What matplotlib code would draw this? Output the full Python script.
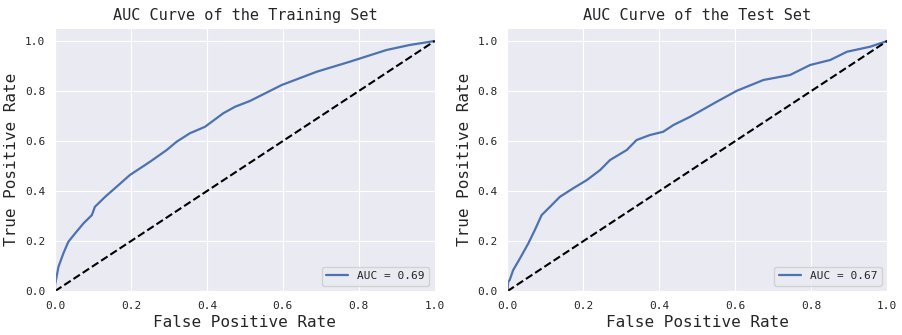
import matplotlib
matplotlib.use("Agg")
import matplotlib.pyplot as plt
import seaborn as sns

# ROC points
train_fpr = [0.0, 0.0, 0.009, 0.022, 0.035, 0.053, 0.075, 0.097, 0.105, 0.132,
             0.162, 0.197, 0.25, 0.294, 0.32, 0.355, 0.395, 0.443, 0.474, 0.513,
             0.597, 0.689, 0.776, 0.873, 0.934, 1.0]
train_tpr = [0.0, 0.024, 0.097, 0.151, 0.197, 0.231, 0.271, 0.304, 0.337, 0.377,
             0.417, 0.464, 0.517, 0.564, 0.597, 0.631, 0.657, 0.711, 0.737, 0.760,
             0.824, 0.877, 0.917, 0.964, 0.984, 1.0]

test_fpr = [0.0, 0.002, 0.006, 0.015, 0.033, 0.055, 0.072, 0.090, 0.112, 0.138,
            0.173, 0.209, 0.244, 0.27, 0.314, 0.34, 0.375, 0.41, 0.437, 0.481,
            0.551, 0.604, 0.674, 0.744, 0.797, 0.85, 0.894, 0.955, 1.0]
test_tpr = [0.0, 0.037, 0.045, 0.084, 0.131, 0.191, 0.244, 0.304, 0.337, 0.377,
            0.411, 0.444, 0.484, 0.524, 0.564, 0.604, 0.624, 0.637, 0.664, 0.697,
            0.757, 0.801, 0.844, 0.864, 0.904, 0.924, 0.957, 0.977, 1.0]

panels = [
    ("AUC Curve of the Training Set", train_fpr, train_tpr, 0.69),
    ("AUC Curve of the Test Set", test_fpr, test_tpr, 0.67),
]

sns.set_style("darkgrid")
plt.rcParams['font.family'] = ['DejaVu Sans Mono']

fig = plt.figure(figsize=(9.02, 3.35), dpi=100)
lefts = [0.061, 0.5626]
for left, (title, fpr, tpr, auc) in zip(lefts, panels):
    ax = fig.add_axes([left, 0.131, 0.421, 0.784])
    ax.plot(fpr, tpr, color="#4c72b0", lw=1.6, label=f"AUC = {auc:.2f}")
    ax.plot([0, 1], [0, 1], "k--", lw=1.5)
    ax.set_xlim(0, 1)
    ax.set_ylim(0, 1.05)
    ax.set_xticks([0, 0.2, 0.4, 0.6, 0.8, 1.0])
    ax.set_yticks([0, 0.2, 0.4, 0.6, 0.8, 1.0])
    ax.tick_params(labelsize=8)
    ax.set_title(title, fontsize=11)
    ax.set_xlabel("False Positive Rate", fontsize=11.5, labelpad=3)
    ax.set_ylabel("True Positive Rate", fontsize=11.5, labelpad=4)
    ax.legend(loc="lower right", fontsize=8)

plt.savefig("out.png", dpi=100)
plt.close()
